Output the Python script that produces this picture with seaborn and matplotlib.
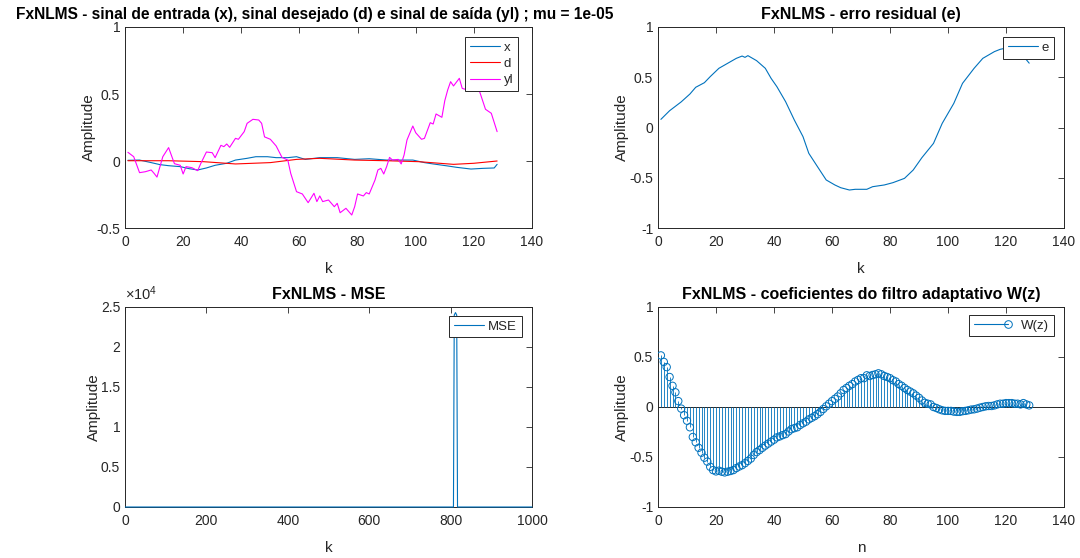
import matplotlib
matplotlib.use("Agg")
import matplotlib.pyplot as plt
import seaborn as sns
from matplotlib.ticker import FuncFormatter
from matplotlib.legend_handler import HandlerLine2D
from matplotlib.lines import Line2D

# ---- input / desired / output signals (top left) ----
k_x = [1, 5, 9, 12, 15, 19, 22, 25, 28, 31, 35, 38, 42, 45, 49, 52, 56, 59, 62, 67,
       73, 79, 84, 90, 96, 99, 103, 106, 111, 114, 119, 123, 127, 128]
x_sig = [0.005, 0.007, -0.012, -0.027, -0.035, -0.042, -0.057, -0.067, -0.052, -0.032,
         -0.017, 0.007, 0.020, 0.032, 0.032, 0.025, 0.025, 0.032, 0.012, 0.025,
         0.025, 0.012, 0.017, 0.007, 0.007, 0.007, -0.012, -0.022, -0.037, -0.047,
         -0.060, -0.055, -0.052, -0.025]

k_d = [1, 15, 27, 38, 50, 59, 67, 79, 90, 101, 113, 120, 128]
d_sig = [0.002, 0.002, -0.005, -0.022, -0.012, 0.012, 0.020, 0.007, 0.002, -0.005,
         -0.025, -0.017, 0.0]

k_yl = [1, 3, 5, 7, 9, 10, 11, 13, 15, 17, 19, 20, 21, 23, 25, 26, 28, 30, 31, 33,
        34, 35, 36, 38, 39, 41, 42, 44, 46, 47, 48, 50, 52, 54, 56, 57, 59, 61, 63, 65,
        66, 67, 68, 70, 72, 73, 74, 76, 78, 79, 80, 82, 83, 84, 86, 87, 88, 89, 90, 91,
        92, 94, 95, 96, 97, 99, 100, 102, 103, 105, 106, 107, 109, 110, 111, 112, 113, 115,
        116, 117, 118, 119, 120, 121, 122, 124, 126, 128]
yl_sig = [0.065, 0.032, -0.087, -0.080, -0.067, -0.092, -0.120, 0.032, 0.100, -0.020,
          -0.032, -0.097, -0.042, -0.050, -0.072, -0.022, 0.067, 0.062, 0.025, 0.117,
          0.107, 0.127, 0.102, 0.169, 0.162, 0.219, 0.281, 0.311, 0.306, 0.281,
          0.180, 0.162, 0.112, 0.027, 0.007, -0.092, -0.229, -0.246, -0.311, -0.241,
          -0.303, -0.261, -0.303, -0.291, -0.341, -0.316, -0.386, -0.353, -0.403, -0.341,
          -0.246, -0.261, -0.236, -0.246, -0.142, -0.067, -0.055, -0.097, -0.042, 0.027,
          0.007, 0.012, -0.022, 0.045, 0.157, 0.261, 0.211, 0.162, 0.169, 0.286,
          0.276, 0.351, 0.326, 0.450, 0.530, 0.592, 0.560, 0.617, 0.542, 0.535,
          0.600, 0.620, 0.580, 0.550, 0.517, 0.386, 0.356, 0.219]

# ---- residual error (top right) ----
k_e = [1, 4, 8, 11, 13, 16, 18, 21, 25, 27, 29, 30, 31, 34, 37, 39, 41, 44, 47, 50,
       52, 55, 58, 61, 63, 66, 68, 72, 74, 78, 81, 85, 88, 91, 95, 98, 102, 105, 109, 112,
       116, 118, 120, 122, 124, 126, 128]
e_sig = [0.081, 0.167, 0.255, 0.333, 0.400, 0.446, 0.506, 0.589, 0.655, 0.688,
         0.711, 0.698, 0.715, 0.665, 0.589, 0.489, 0.406, 0.257, 0.075, -0.091,
         -0.257, -0.390, -0.522, -0.572, -0.599, -0.622, -0.615, -0.615, -0.589, -0.572,
         -0.549, -0.506, -0.423, -0.300, -0.158, 0.041, 0.240, 0.439, 0.589, 0.688,
         0.755, 0.778, 0.790, 0.795, 0.770, 0.710, 0.640]

# ---- mean squared error (bottom left) ----
k_mse = [1, 807, 809, 812, 815, 817, 1000]
mse = [0.0, 0.0, 24000.0, 24300.0, 24000.0, 0.0, 0.0]

# ---- adaptive filter coefficients W(z) (bottom right) ----
n_w = list(range(1, 129))
w_coef = [0.516, 0.451, 0.399, 0.300, 0.212, 0.147, 0.059, -0.016, -0.082, -0.137,
          -0.203, -0.300, -0.353, -0.408, -0.457, -0.507, -0.546, -0.598, -0.631, -0.644,
          -0.637, -0.647, -0.654, -0.647, -0.640, -0.631, -0.611, -0.595, -0.582, -0.562,
          -0.539, -0.516, -0.480, -0.451, -0.431, -0.408, -0.386, -0.366, -0.346, -0.327,
          -0.304, -0.294, -0.281, -0.271, -0.245, -0.222, -0.212, -0.203, -0.180, -0.163,
          -0.147, -0.124, -0.108, -0.092, -0.072, -0.049, -0.020, 0.007, 0.033, 0.059,
          0.082, 0.105, 0.137, 0.170, 0.190, 0.212, 0.229, 0.255, 0.271, 0.288,
          0.288, 0.317, 0.310, 0.320, 0.327, 0.337, 0.327, 0.310, 0.300, 0.288,
          0.268, 0.255, 0.229, 0.212, 0.190, 0.170, 0.154, 0.137, 0.114, 0.092,
          0.065, 0.042, 0.033, 0.026, 0.000, -0.010, -0.023, -0.033, -0.039, -0.039,
          -0.039, -0.046, -0.049, -0.049, -0.042, -0.039, -0.033, -0.026, -0.023, -0.016,
          -0.007, 0.000, 0.007, 0.010, 0.010, 0.016, 0.026, 0.033, 0.033, 0.039,
          0.039, 0.039, 0.033, 0.033, 0.026, 0.039, 0.026, 0.016]

TITLES = [
    "FxNLMS - sinal de entrada (x), sinal desejado (d) e sinal de saída (yl) ; mu = 1e-05",
    "FxNLMS - erro residual (e)",
    "FxNLMS - MSE",
    "FxNLMS - coeficientes do filtro adaptativo W(z)",
]

BLUE = "#0072BD"
RED = "#FF0000"
MAGENTA = "#FF00FF"
INK = "#262626"

sns.set_style("white")
plt.rcParams["font.family"] = ["Liberation Sans", "DejaVu Sans"]
plt.rcParams["axes.unicode_minus"] = False
plt.rcParams["mathtext.fontset"] = "custom"
plt.rcParams["mathtext.rm"] = "Liberation Sans"
plt.rcParams["mathtext.it"] = "Liberation Sans:italic"

W, H = 1080, 558
fig = plt.figure(figsize=(W / 100, H / 100), dpi=100)


def axes_px(left, top, right, bottom):
    return fig.add_axes([left / W, 1 - bottom / H, (right - left) / W, (bottom - top) / H])


ax1 = axes_px(125, 27, 532, 228)
ax2 = axes_px(658, 27, 1064, 228)
ax3 = axes_px(125, 307, 532, 507)
ax4 = axes_px(658, 307, 1064, 507)

fmt = FuncFormatter(lambda v, p: f"{v:g}")


def style(ax, xlim, ylim, xticks, yticks, xlabel, title, title_size=11.5):
    ax.set_xlim(xlim)
    ax.set_ylim(ylim)
    ax.set_xticks(xticks)
    ax.set_yticks(yticks)
    ax.xaxis.set_major_formatter(fmt)
    ax.yaxis.set_major_formatter(fmt)
    ax.tick_params(direction="in", length=4, width=0.6, top=True, right=True,
                   colors=INK, labelsize=10, labelcolor=INK)
    ax.tick_params(axis="x", pad=5)
    ax.tick_params(axis="y", pad=3.5)
    for s in ax.spines.values():
        s.set_visible(True)
        s.set_color(INK)
        s.set_linewidth(0.7)
    ax.set_xlabel(xlabel, fontsize=11, color=INK, labelpad=9.5)
    ax.set_ylabel("Amplitude", fontsize=11, color=INK, labelpad=0)
    ax.set_title(title, fontsize=title_size, fontweight="bold", color="black", pad=5.5)


def add_legend(ax, anchor, **kw):
    opts = dict(handlelength=2.3, handletextpad=0.3)
    opts.update(kw)
    leg = ax.legend(loc="upper right", bbox_to_anchor=anchor, fontsize=9.5,
                    frameon=True, fancybox=False, framealpha=1, edgecolor=INK,
                    borderpad=0.35, labelspacing=0.3, borderaxespad=0, **opts)
    leg.get_frame().set_linewidth(0.7)
    return leg


# top left: x, d, yl
sns.lineplot(x=k_x, y=x_sig, ax=ax1, color=BLUE, linewidth=0.8, label="x", estimator=None)
sns.lineplot(x=k_d, y=d_sig, ax=ax1, color=RED, linewidth=0.8, label="d", estimator=None)
sns.lineplot(x=k_yl, y=yl_sig, ax=ax1, color=MAGENTA, linewidth=0.8, label="yl", estimator=None)
style(ax1, (0, 140), (-0.5, 1), range(0, 141, 20), [-0.5, 0, 0.5, 1], "k", TITLES[0],
      title_size=11.2)
ax1.title.set_x(0.465)
add_legend(ax1, (0.966, 0.95))

# top right: e
sns.lineplot(x=k_e, y=e_sig, ax=ax2, color=BLUE, linewidth=0.8, label="e", estimator=None)
style(ax2, (0, 140), (-1, 1), range(0, 141, 20), [-1, -0.5, 0, 0.5, 1], "k", TITLES[1])
add_legend(ax2, (0.975, 0.95))

# bottom left: MSE
sns.lineplot(x=k_mse, y=mse, ax=ax3, color=BLUE, linewidth=0.8, label="MSE",
             estimator=None, clip_on=False, zorder=5)
style(ax3, (0, 1000), (0, 25000), range(0, 1001, 200), range(0, 25001, 5000), "k", TITLES[2])
ax3.yaxis.set_major_formatter(FuncFormatter(lambda v, p: f"{v / 1e4:g}"))
ax3.text(0.0, 1.02, r"$\times10^{4}$", transform=ax3.transAxes, ha="left", va="bottom",
         fontsize=10.5, color=INK)
add_legend(ax3, (0.975, 0.955))

# bottom right: stem plot of W(z)
ax4.axhline(0, color=INK, linewidth=0.7, zorder=1)
ax4.vlines(n_w, 0, w_coef, color=BLUE, linewidth=0.6, zorder=2)
sns.scatterplot(x=n_w, y=w_coef, ax=ax4, marker="o", s=28, color=BLUE,
                facecolors="none", edgecolors=BLUE, linewidths=0.7, zorder=3, legend=False)
style(ax4, (0, 140), (-1, 1), range(0, 141, 20), [-1, -0.5, 0, 0.5, 1], "n", TITLES[3])


class StemHandler(HandlerLine2D):
    def create_artists(self, *args, **kwargs):
        arts = super().create_artists(*args, **kwargs)
        for a in arts:
            if isinstance(a, Line2D) and a.get_marker() not in (None, "None", ""):
                a.set_markevery([len(a.get_xdata()) - 1])
        return arts


stem_handle = Line2D([], [], color=BLUE, linewidth=0.8, marker="o", markersize=5.5,
                     markerfacecolor="none", markeredgewidth=0.7)
add_legend(ax4, (0.975, 0.96), handles=[stem_handle], labels=["W(z)"],
           handler_map={Line2D: StemHandler(numpoints=1)},
           handlelength=2.6, handletextpad=1.0)

fig.savefig("out.png", dpi=100)
